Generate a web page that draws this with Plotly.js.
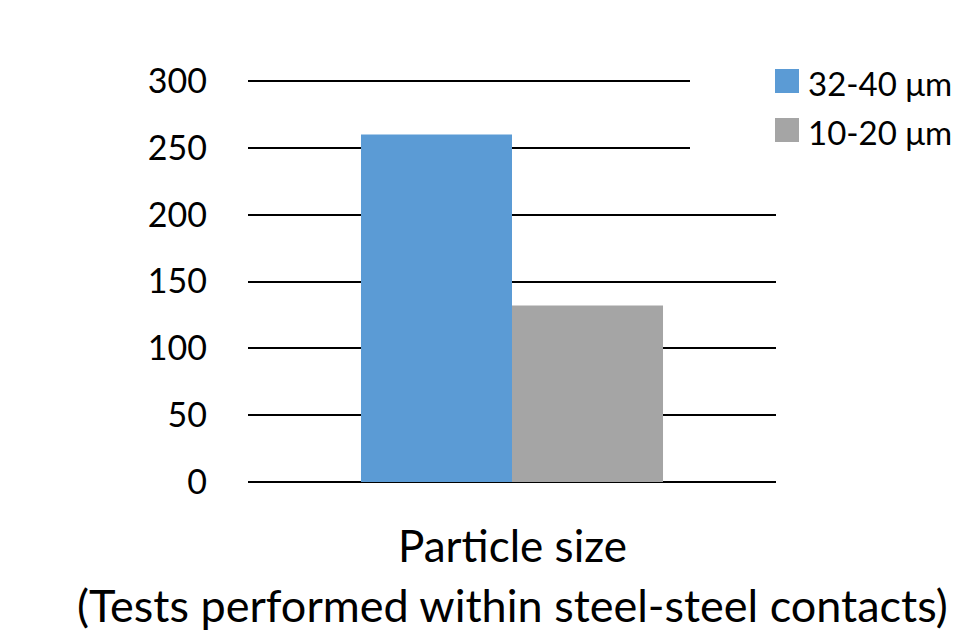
<!DOCTYPE html>
<html>
<head>
<meta charset="utf-8">
<script src="https://cdn.plot.ly/plotly-3.0.1.min.js"></script>
<style>html,body{margin:0;padding:0;background:#fff;}#chart{width:955px;height:640px;}</style>
</head>
<body>
<div id="chart"></div>
<script>
const categories = ["Particle size"];
const seriesNames = ["32-40 μm", "10-20 μm"];
const series1 = [260];
const series2 = [132];
const yTicks = [0, 50, 100, 150, 200, 250, 300];
const xTitle = "Particle size";
const subTitle = "(Tests performed within steel-steel contacts)";

const W = 955, H = 640;
const m = {l: 248, r: 179, t: 79, b: 158};
const PH = H - m.t - m.b, PW = W - m.l - m.r;
const yMax = 300 * PH / 401;
const font = "Lato, 'Open Sans', sans-serif";
const colors = ["#5B9BD5", "#A5A5A5"];

const data = [
  {type: "bar", name: seriesNames[0], x: categories, y: series1, marker: {color: colors[0]}},
  {type: "bar", name: seriesNames[1], x: categories, y: series2, marker: {color: colors[1]}}
];

const px = x => (x - m.l) / PW;
const py = y => (H - m.b - y) / PH;

const legendShapes = seriesNames.map((n, i) => ({
  type: "rect", xref: "paper", yref: "paper", layer: "above",
  x0: px(775), x1: px(799), y0: py(93 + i * 49), y1: py(69 + i * 49),
  fillcolor: colors[i], line: {width: 0}
}));
const legendTexts = seriesNames.map((n, i) => ({
  text: n, xref: "paper", yref: "paper", x: px(806), y: py(83 + i * 49),
  xanchor: "left", yanchor: "middle", showarrow: false, font: {size: 33, family: font}
}));

const layout = {
  width: W, height: H,
  margin: m,
  paper_bgcolor: "#fff", plot_bgcolor: "#fff",
  barmode: "group", bargap: 0.428, bargroupgap: 0,
  font: {family: font, color: "#000", size: 28},
  showlegend: false,
  xaxis: {showticklabels: false, showgrid: false, zeroline: false, showline: false, ticks: ""},
  yaxis: {range: [0, yMax], tickvals: yTicks, showgrid: true, gridcolor: "#000", gridwidth: 2,
          zeroline: true, zerolinecolor: "#000", zerolinewidth: 2, showline: false, ticks: "",
          ticklabelstandoff: 40, tickfont: {size: 34, family: font}},
  shapes: [
    {type: "rect", xref: "paper", yref: "paper", layer: "above",
     x0: px(690), x1: px(960), y0: py(160), y1: py(60),
     fillcolor: "#fff", line: {width: 0}}
  ].concat(legendShapes),
  annotations: [
    {text: xTitle, xref: "paper", yref: "paper", x: 0.5, y: py(545), xanchor: "center", yanchor: "middle",
     showarrow: false, font: {size: 44, family: font}},
    {text: subTitle, xref: "paper", yref: "paper", x: 0.5, y: py(605), xanchor: "center", yanchor: "middle",
     showarrow: false, font: {size: 45, family: font}}
  ].concat(legendTexts)
};

Plotly.newPlot("chart", data, layout, {displayModeBar: false, staticPlot: true});
</script>
</body>
</html>
